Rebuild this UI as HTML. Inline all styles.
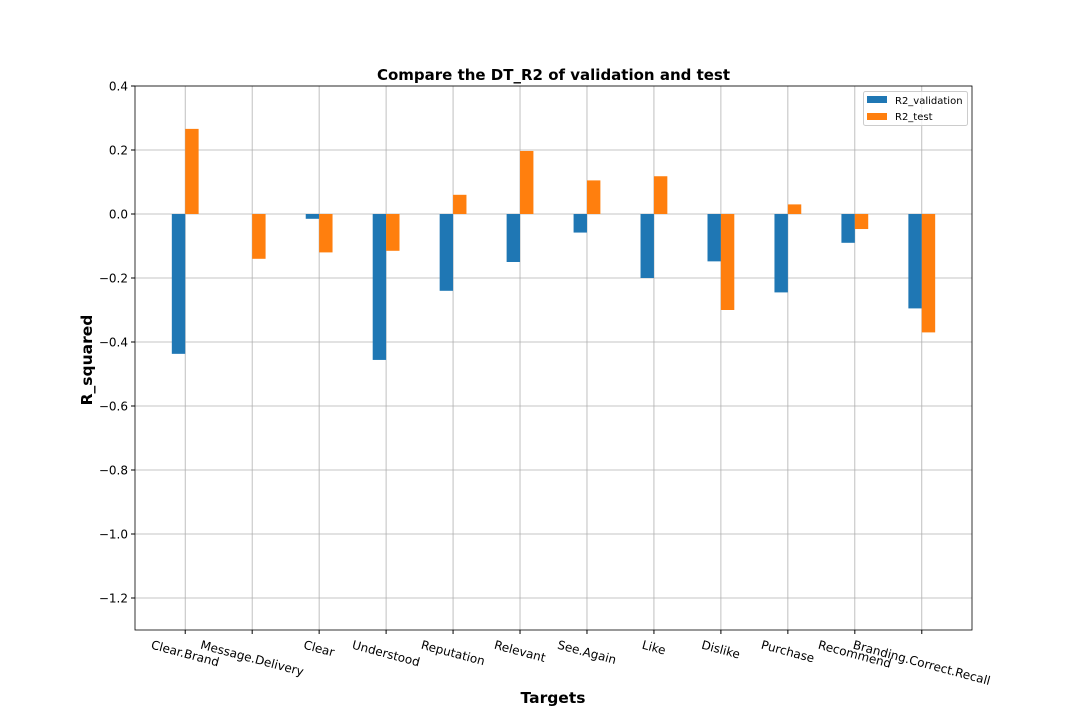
<!DOCTYPE html>
<html><head><meta charset="utf-8"><style>
body{margin:0;background:#fff;}
svg text{font-family:"DejaVu Sans","Liberation Sans",sans-serif;}
</style></head><body>
<svg id="c" width="1080" height="720" xmlns="http://www.w3.org/2000/svg"></svg>
<script>
const categories=["Clear.Brand","Message.Delivery","Clear","Understood","Reputation","Relevant","See.Again","Like","Dislike","Purchase","Recommend","Branding.Correct.Recall"];
const r2Validation=[-0.437,0,-0.015,-0.456,-0.24,-0.15,-0.058,-0.2,-0.148,-0.245,-0.09,-0.295];
const r2Test=[0.266,-0.14,-0.12,-0.115,0.06,0.197,0.105,0.118,-0.3,0.03,-0.047,-0.37];
const yTicks=[0.4,0.2,0.0,-0.2,-0.4,-0.6,-0.8,-1.0,-1.2];
const yTickLabels=["0.4","0.2","0.0","\u22120.2","\u22120.4","\u22120.6","\u22120.8","\u22121.0","\u22121.2"];
const L=135,R=972,T=86,B=630,ymax=0.4,ymin=-1.3;
const y=v=>T+(ymax-v)/(ymax-ymin)*(B-T);
const xs=(R-L)/12.5;
const x=i=>L+(i+0.75)*xs;
const svg=document.getElementById('c');
const NS='http://www.w3.org/2000/svg';
function mk(t,a,p){const e=document.createElementNS(NS,t);for(const k in a)e.setAttribute(k,a[k]);(p||svg).appendChild(e);return e;}
yTicks.forEach((v,i)=>{
 const g=mk('line',{x1:L,x2:R,y1:y(v),y2:y(v),stroke:'#b0b0b0','stroke-width':0.8});
 
 
 mk('line',{x1:L-4,x2:L,y1:y(v),y2:y(v),stroke:'#000'});
 const t=mk('text',{x:L-7,y:y(v)+4.5,'text-anchor':'end','font-size':12});
 t.textContent=yTickLabels[i];
 
 
});
categories.forEach((c,i)=>{
 const g=mk('line',{x1:x(i),x2:x(i),y1:T,y2:B,stroke:'#b0b0b0','stroke-width':0.8});
 
 
 mk('line',{x1:x(i),x2:x(i),y1:B,y2:B+4,stroke:'#000'});
});
const bw=13.4;
const s15=Math.sin(15*Math.PI/180),c15=Math.cos(15*Math.PI/180);
categories.forEach((c,i)=>{
 const v=r2Validation[i],w=r2Test[i];
 const b1=mk('rect',{x:x(i)-bw,y:Math.min(y(v),y(0)),width:bw,height:Math.abs(y(v)-y(0)),fill:'#1f77b4'});
 
 
 const b2=mk('rect',{x:x(i),y:Math.min(y(w),y(0)),width:bw,height:Math.abs(y(w)-y(0)),fill:'#ff7f0e'});
 
 
 const t=mk('text',{x:x(i),y:0,'text-anchor':'middle','font-size':12});
 t.textContent=c;
 
 
 const tw=t.getComputedTextLength();
 const cy=B+8+(tw*s15+13*c15)/2;
 t.setAttribute('y',cy+4.3);
 t.setAttribute('transform',`rotate(15 ${x(i)} ${cy})`);
});
mk('rect',{x:L,y:T,width:R-L,height:B-T,fill:'none',stroke:'#000','stroke-width':0.8});
let t=mk('text',{x:(L+R)/2,y:80,'text-anchor':'middle','font-size':15,'font-weight':'bold'});t.textContent='Compare the DT_R2 of validation and test';

t=mk('text',{x:553,y:703,'text-anchor':'middle','font-size':15.5,'font-weight':'bold'});t.textContent='Targets';

t=mk('text',{x:92,y:360,'text-anchor':'middle','font-size':15.5,'font-weight':'bold',transform:'rotate(-90 92 360)'});t.textContent='R_squared';

const lg=mk('g',{});

mk('rect',{x:863.5,y:91.5,width:104,height:34,rx:2,fill:'#fff','fill-opacity':0.8,stroke:'#ccc'},lg);
mk('rect',{x:867,y:96,width:20,height:7,fill:'#1f77b4'},lg);
mk('rect',{x:867,y:113,width:20,height:7,fill:'#ff7f0e'},lg);
t=mk('text',{x:895,y:104,'font-size':10},lg);t.textContent='R2_validation';

t=mk('text',{x:895,y:120,'font-size':10},lg);t.textContent='R2_test';

</script>
</body></html>
